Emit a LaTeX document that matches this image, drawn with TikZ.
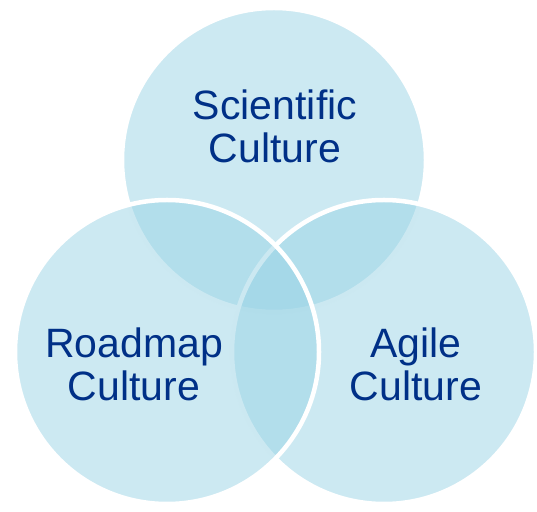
\documentclass[tikz,border=0pt]{standalone}
\usepackage{fontspec}
\setmainfont{Liberation Sans}
\definecolor{vennblue}{RGB}{153,211,229}
\definecolor{venntext}{RGB}{0,48,135}
\begin{document}
\begin{tikzpicture}[x=1pt,y=1pt,line join=round,
	disc/.style={circle,draw=white,line width=4.5pt,fill=vennblue,fill opacity=0.5,minimum size=304pt,inner sep=0pt},
	culture/.style={text=venntext,align=center,anchor=base,font=\fontsize{41}{43}\selectfont}]
	\useasboundingbox (0,0) rectangle (537,511);
	% the three sets, top one first so the lower ones overlap it
	\node[disc] (S) at (274,351) {};
	\node[disc] (A) at (384,159) {};
	\node[disc] (R) at (167,159) {};
	% base anchor sits on the second line
	\foreach \x/\txt/\dx/\dy in {S/Scientific/1/-3,R/Roadmap/-33/-48,A/Agile/32/-48}
	\node[culture] (\x t) at ([shift={(\dx,\dy)}]\x) {\txt\\Culture};
\end{tikzpicture}
\end{document}
